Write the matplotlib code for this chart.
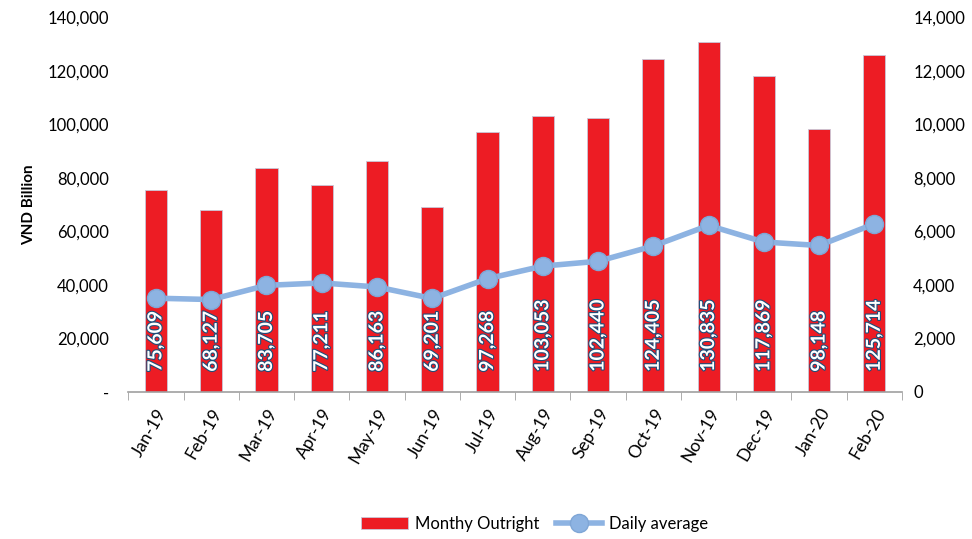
import numpy as np
import matplotlib.pyplot as plt
import matplotlib.patheffects as pe
from matplotlib.ticker import FuncFormatter

plt.rcParams['font.family'] = ['Lato', 'DejaVu Sans']

months = ['Jan-19', 'Feb-19', 'Mar-19', 'Apr-19', 'May-19', 'Jun-19', 'Jul-19',
          'Aug-19', 'Sep-19', 'Oct-19', 'Nov-19', 'Dec-19', 'Jan-20', 'Feb-20']
monthly_outright = [75609, 68127, 83705, 77211, 86163, 69201, 97268,
                    103053, 102440, 124405, 130835, 117869, 98148, 125714]
daily_average = [3500, 3450, 3980, 4070, 3920, 3490, 4230,
                 4700, 4880, 5450, 6220, 5600, 5470, 6280]

RED = '#ED1C24'
BLUE = '#8DB3E2'


def left_fmt(v, pos):
    return '-' if v == 0 else f'{int(v):,}'


def right_fmt(v, pos):
    return f'{int(v):,}'


fig = plt.figure(figsize=(9.72, 5.39), dpi=100)
ax = fig.add_axes([0.132, 0.273, 0.796, 0.695])
x = np.arange(len(months))

bars = ax.bar(x, monthly_outright, width=0.4, color=RED, edgecolor='#c8c8d8',
              linewidth=0.6, label='Monthy Outright', zorder=2)
ax.set_xlim(-0.5, len(months) - 0.5)
ax.set_ylim(0, 140000)
ax.set_yticks(np.arange(0, 140001, 20000))
ax.yaxis.set_major_formatter(FuncFormatter(left_fmt))
ax.set_ylabel('VND Billion', fontsize=11, fontweight='bold', labelpad=8)

ax.set_xticks(x)
ax.set_xticklabels(months, rotation=60, ha='right', rotation_mode='anchor', fontsize=12.5)
ax.set_xticks(np.arange(-0.5, len(months)), minor=True)
ax.tick_params(axis='x', which='major', length=0, pad=10)
ax.tick_params(axis='x', which='minor', length=6, color='#a0a0a0')
ax.tick_params(axis='y', length=0, labelsize=12, pad=14)
for s in ['top', 'left', 'right']:
    ax.spines[s].set_visible(False)
ax.spines['bottom'].set_color('#a0a0a0')
ax.spines['bottom'].set_linewidth(1.2)

for xi, v in zip(x, monthly_outright):
    ax.text(xi, 7500, f'{v:,}', rotation=90, ha='center', va='bottom',
            color='white', fontsize=14, fontweight='bold', zorder=5,
            path_effects=[pe.withStroke(linewidth=1.6, foreground='#1F4E79')])

ax2 = ax.twinx()
ax2.plot(x, daily_average, color=BLUE, linewidth=4, marker='o', markersize=13,
         markeredgecolor='#7fa6d6', label='Daily average', zorder=3)
ax2.set_ylim(0, 14000)
ax2.set_yticks(np.arange(0, 14001, 2000))
ax2.yaxis.set_major_formatter(FuncFormatter(right_fmt))
ax2.tick_params(axis='y', length=0, labelsize=12, pad=8)
for s in ['top', 'left', 'right', 'bottom']:
    ax2.spines[s].set_visible(False)

h1, l1 = ax.get_legend_handles_labels()
h2, l2 = ax2.get_legend_handles_labels()
fig.legend(h1 + h2, l1 + l2, loc='lower center', bbox_to_anchor=(0.55, -0.015),
           ncol=2, frameon=False, fontsize=12, handlelength=2.8,
           columnspacing=1.0, handletextpad=0.4)

fig.savefig('out.png', dpi=100)
